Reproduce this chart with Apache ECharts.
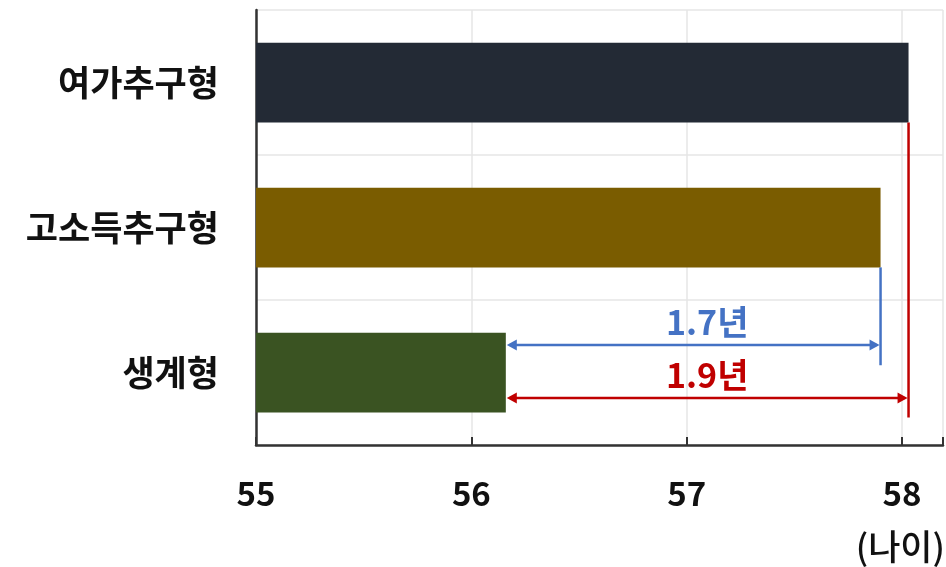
<!DOCTYPE html>
<html>
<head>
<meta charset="utf-8">
<script src="https://cdn.jsdelivr.net/npm/echarts@6/dist/echarts.min.js"></script>
<style>
  html, body { margin: 0; padding: 0; background: #ffffff; }
  #chart { width: 946px; height: 567px; }
</style>
</head>
<body>
<div id="chart"></div>
<script>
// Retirement age by household type (years)
const categories = ['여가추구형', '고소득추구형', '생계형'];
const retireAge = [58.03, 57.90, 56.16];
const barColors = ['#232a35', '#7a5c00', '#3a5322'];
const xTicks = [55, 56, 57, 58];
const unitLabel = '(나이)';

// Gaps are measured from 생계형 to each of the other groups
const gapBase = 2;
const gapTargets = [1, 0];
const gapColors = ['#4472c4', '#c00000'];

const FONT = '"Noto Sans CJK KR", "Noto Sans", sans-serif';

const chart = echarts.init(document.getElementById('chart'), null, { renderer: 'canvas' });

function arrowHead(x, y, dir, color) {
  const len = 10, hw = 5.5;
  return {
    type: 'polygon',
    shape: { points: [[x, y], [x - dir * len, y - hw], [x - dir * len, y + hw]] },
    style: { fill: color }
  };
}

function renderGap(params, api) {
  const i = params.dataIndex;
  const fromV = api.value(0);
  const toV = api.value(1);
  const tgt = api.value(2);
  const base = api.value(3);
  const band = api.size([0, 1])[1];
  const half = band * 0.55 / 2;
  const pBase = api.coord([fromV, base]);
  const pTgt = api.coord([toV, tgt]);
  const color = gapColors[i];

  // vertical drop lines and arrow rows are laid out around the 생계형 bar
  const arrowY = pBase[1] + (i === 0 ? -0.19 : 0.175) * band;
  const dropEnd = pBase[1] + (i === 0 ? -0.05 : 0.31) * band;
  const x0 = pBase[0];
  const x1 = pTgt[0];

  const maxEnd = api.coord([Math.max.apply(null, gapTargets.map(t => retireAge[t])), base])[0];
  const textX = (x0 + maxEnd) / 2;
  const gap = (toV - fromV).toFixed(1) + '년';

  return {
    type: 'group',
    children: [
      {
        type: 'line',
        shape: { x1: x1, y1: pTgt[1] + half, x2: x1, y2: dropEnd },
        style: { stroke: color, lineWidth: 2.5 }
      },
      {
        type: 'line',
        shape: { x1: x0 + 4, y1: arrowY, x2: x1 - 4, y2: arrowY },
        style: { stroke: color, lineWidth: 2.5 }
      },
      arrowHead(x0 + 1, arrowY, -1, color),
      arrowHead(x1 - 1, arrowY, 1, color),
      {
        type: 'text',
        x: textX,
        y: arrowY - 6,
        style: {
          text: gap,
          fill: color,
          font: 'bold 34px ' + FONT,
          align: 'center',
          verticalAlign: 'bottom'
        }
      }
    ]
  };
}

const option = {
  backgroundColor: '#ffffff',
  animation: false,
  grid: { left: 256, right: 0, top: 10, bottom: 122, containLabel: false },
  xAxis: {
    type: 'value',
    min: 55,
    max: 58.19,
    interval: 1,
    axisLine: { show: true, lineStyle: { color: '#333333', width: 2.5 } },
    axisTick: { show: true, inside: true, length: 8, lineStyle: { color: '#333333', width: 2 } },
    splitLine: { show: true, lineStyle: { color: '#e6e6e6', width: 1.5 } },
    axisLabel: {
      margin: 32,
      color: '#111111',
      fontFamily: FONT,
      fontWeight: 'bold',
      fontSize: 33,
      formatter: v => (xTicks.indexOf(v) >= 0 ? String(v) : '')
    }
  },
  yAxis: {
    type: 'category',
    data: categories,
    inverse: true,
    axisLine: { show: true, lineStyle: { color: '#333333', width: 2.5 } },
    axisTick: { show: false },
    splitLine: { show: true, lineStyle: { color: '#e6e6e6', width: 1.5 } },
    axisLabel: {
      margin: 37,
      color: '#111111',
      fontFamily: FONT,
      fontWeight: 'bold',
      fontSize: 35
    }
  },
  graphic: [
    {
      type: 'text',
      right: 1,
      top: 529,
      style: { text: unitLabel, fill: '#111111', font: '500 35px ' + FONT }
    }
  ],
  series: [
    {
      type: 'bar',
      barWidth: '55%',
      data: retireAge.map((v, i) => ({ value: v, itemStyle: { color: barColors[i] } })),
      z: 2
    },
    {
      type: 'custom',
      renderItem: renderGap,
      data: gapTargets.map(t => [retireAge[gapBase], retireAge[t], t, gapBase]),
      encode: { x: [0, 1], y: 3 },
      z: 3
    }
  ]
};

chart.setOption(option);
</script>
</body>
</html>
